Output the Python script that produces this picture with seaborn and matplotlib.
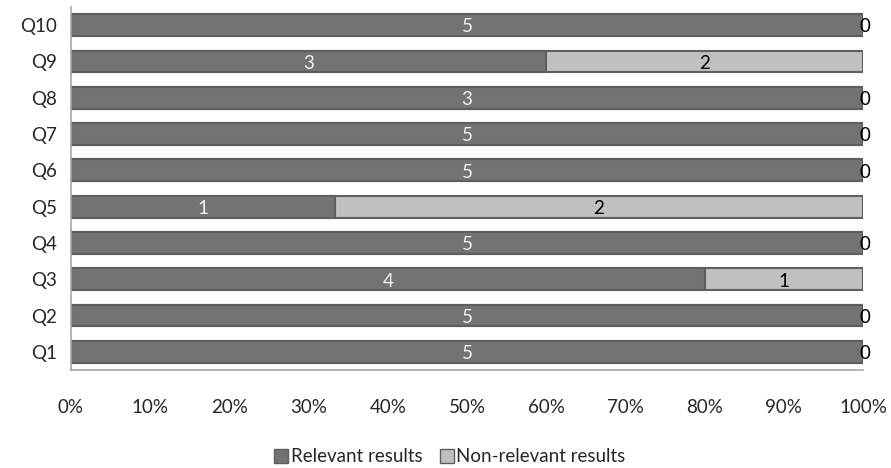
import matplotlib
matplotlib.use("Agg")
import matplotlib.pyplot as plt
import seaborn as sns
import pandas as pd
import numpy as np
from matplotlib.patches import Patch

questions = ["Q10", "Q9", "Q8", "Q7", "Q6", "Q5", "Q4", "Q3", "Q2", "Q1"]
relevant = [5, 3, 3, 5, 5, 1, 5, 4, 5, 5]
non_relevant = [0, 2, 0, 0, 0, 2, 0, 1, 0, 0]
tick_labels = ["0%", "10%", "20%", "30%", "40%", "50%", "60%", "70%", "80%", "90%", "100%"]

sns.set_style("white")
plt.rcParams["font.family"] = ["Lato", "DejaVu Sans"]

df = pd.DataFrame({"q": questions, "rel": relevant, "non": non_relevant})
total = df["rel"] + df["non"]
df["rel_pct"] = np.where(total > 0, df["rel"] / total * 100, 0)
df["rel_pct"] = np.where(df["non"] == 0, 100, df["rel_pct"])
df["tot_pct"] = 100.0

fig = plt.figure(figsize=(8.91, 4.68), dpi=100)
ax = fig.add_axes([71 / 891, 1 - 370 / 468, (863 - 71) / 891, (370 - 7) / 468])

dark = "#737373"
light = "#c0c0c0"
edge = "#5e5e5e"

sns.barplot(data=df, y="q", x="tot_pct", orient="h", color=light, saturation=1,
            width=0.6, edgecolor=edge, linewidth=1.5, ax=ax)
sns.barplot(data=df, y="q", x="rel_pct", orient="h", color=dark, saturation=1,
            width=0.6, edgecolor=edge, linewidth=1.5, ax=ax)

fs = 13.5
for i, row in df.iterrows():
    ax.text(row["rel_pct"] / 2, i + 0.05, str(row["rel"]), ha="center", va="center",
            color="#f0f0f0", fontsize=fs)
    nx = row["rel_pct"] + (100 - row["rel_pct"]) / 2
    ax.text(nx + (0.2 if row["non"] == 0 else 0), i + 0.05, str(row["non"]),
            ha="center", va="center", color="black", fontsize=fs)

ax.set_xlim(0, 100)
ax.set_ylim(9.5, -0.5)
ax.set_xticks(np.arange(0, 101, 10))
ax.set_xticklabels(tick_labels, fontsize=fs)
ax.tick_params(axis="x", length=0, pad=21)
ax.tick_params(axis="y", length=0, pad=10, labelsize=13.5)
ax.set_xlabel("")
ax.set_ylabel("")
for s in ["top", "right"]:
    ax.spines[s].set_visible(False)
ax.spines["left"].set_color("#a6a6a6")
ax.spines["bottom"].set_color("#a6a6a6")
ax.spines["left"].set_linewidth(1.2)
ax.spines["bottom"].set_linewidth(1.2)

handles = [Patch(facecolor=dark, edgecolor=edge, label="Relevant results"),
           Patch(facecolor=light, edgecolor=edge, label="Non-relevant results")]
fig.legend(handles=handles, loc="center", bbox_to_anchor=(0.505, 1 - 457 / 468), ncol=2,
           frameon=False, fontsize=fs, handlelength=0.75, handleheight=0.75,
           handletextpad=0.15, columnspacing=0.9, borderpad=0)

fig.savefig("out.png", dpi=100)
